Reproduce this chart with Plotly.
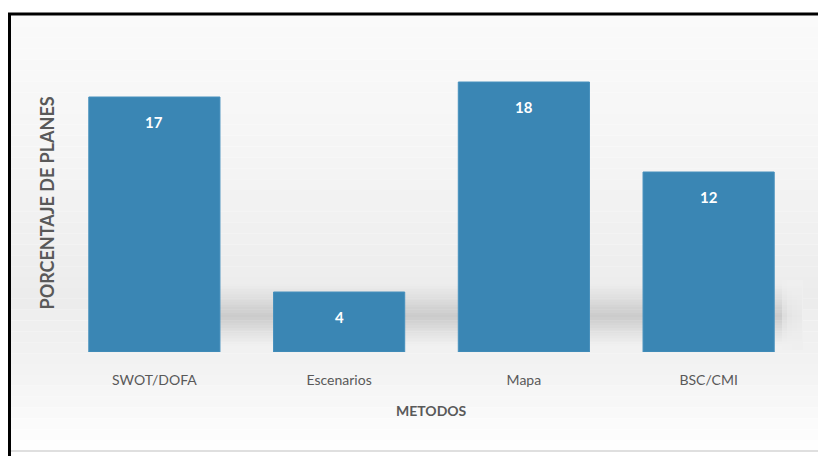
import plotly.graph_objects as go

categories = ["SWOT/DOFA", "Escenarios", "Mapa", "BSC/CMI"]
values = [17, 4, 18, 12]
x_title = "METODOS"
y_title = "PORCENTAJE DE PLANES"

OFF = 8  # page offset of the figure inside the window
W, H = 818, 448
L, R, T, B = 54, 25, 44, 104
pw, ph = W - L - R, H - T - B


def px(x):
    # x in window pixels -> paper coordinate
    return (x - OFF - L) / pw


def py(y):
    return (H - B - (y - OFF)) / ph


FONT = "Lato, 'Open Sans', sans-serif"
shapes = []

# panel background gradient
stops = [(16, (250, 250, 250)), (150, (245, 245, 245)), (300, (236, 236, 236)), (380, (244, 244, 244)), (451, (255, 255, 255))]
n = 40
y0, y1 = 16, 451
for i in range(n):
    a = y0 + (y1 - y0) * i / n
    b = y0 + (y1 - y0) * (i + 1) / n
    m = (a + b) / 2
    for j in range(len(stops) - 1):
        if stops[j][0] <= m <= stops[j + 1][0]:
            t = (m - stops[j][0]) / (stops[j + 1][0] - stops[j][0])
            c = tuple(round(stops[j][1][k] + (stops[j + 1][1][k] - stops[j][1][k]) * t) for k in range(3))
            break
    shapes.append(dict(type="rect", xref="paper", yref="paper", x0=px(9), x1=px(825), y0=py(b), y1=py(a),
                       fillcolor="rgb(%d,%d,%d)" % c, line=dict(width=0), layer="below"))

# soft floor shadow (vertical profile peaking near y=316)
sy0, sy1, peak = 284, 346, 316
ns = 24
for i in range(ns):
    a = sy0 + (sy1 - sy0) * i / ns
    b = sy0 + (sy1 - sy0) * (i + 1) / ns
    m = (a + b) / 2
    if m <= peak:
        w = (m - sy0) / (peak - sy0)
    else:
        w = (sy1 - m) / (sy1 - peak)
    op = 0.30 * w ** 1.2
    shapes.append(dict(type="rect", xref="paper", yref="paper", x0=px(110), x1=px(802), y0=py(b), y1=py(a),
                       fillcolor="rgba(120,120,120,%.3f)" % op, line=dict(width=0), layer="below"))
# fade right edge
for k, op in enumerate([0.5, 0.4, 0.3, 0.2]):
    shapes.append(dict(type="rect", xref="paper", yref="paper", x0=px(782 + 5 * k), x1=px(803), y0=py(350), y1=py(280),
                       fillcolor="rgba(240,240,240,%.2f)" % op, line=dict(width=0), layer="below"))

# frame
shapes += [
    dict(type="line", xref="paper", yref="paper", x0=px(9), x1=px(825), y0=py(451), y1=py(451),
         line=dict(color="#d4d4d4", width=1.5)),
    dict(type="line", xref="paper", yref="paper", x0=px(825), x1=px(825), y0=py(14), y1=py(451),
         line=dict(color="#d4d4d4", width=1.5)),
    dict(type="line", xref="paper", yref="paper", x0=px(6), x1=px(830), y0=py(14), y1=py(14),
         line=dict(color="#000000", width=3)),
    dict(type="line", xref="paper", yref="paper", x0=px(9.5), x1=px(9.5), y0=py(13), y1=py(460),
         line=dict(color="#000000", width=3)),
]

fig = go.Figure()
fig.add_trace(go.Bar(x=categories, y=values, marker=dict(color="#3a86b4", line=dict(color="#4690bd", width=1)),
                     hoverinfo="skip"))

annotations = []
for c, v in zip(categories, values):
    annotations.append(dict(x=c, y=v, xref="x", yref="y", text="<b>%d</b>" % v, showarrow=False,
                            yshift=-25, font=dict(family=FONT, size=15, color="white")))
annotations.append(dict(x=0.5, y=py(410), xref="paper", yref="paper", xanchor="center", yanchor="middle",
                        text="<b>" + x_title + "</b>", showarrow=False,
                        font=dict(family=FONT, size=14, color="#595959")))
annotations.append(dict(x=px(46.5), y=py(203), xref="paper", yref="paper", xanchor="center", yanchor="middle",
                        text="<b>" + y_title + "</b>",
                        showarrow=False, textangle=-90, font=dict(family=FONT, size=18, color="#595959")))

fig.update_layout(
    width=W, height=H, margin=dict(l=L, r=R, t=T, b=B),
    paper_bgcolor="white", plot_bgcolor="rgba(0,0,0,0)",
    bargap=0.29, showlegend=False,
    shapes=shapes, annotations=annotations,
    xaxis=dict(showgrid=False, zeroline=False, showline=False, ticks="", ticklabelstandoff=18,
               tickfont=dict(family=FONT, size=14, color="#595959")),
    yaxis=dict(range=[0, 20], visible=False),
)

fig.write_html("out.html")
